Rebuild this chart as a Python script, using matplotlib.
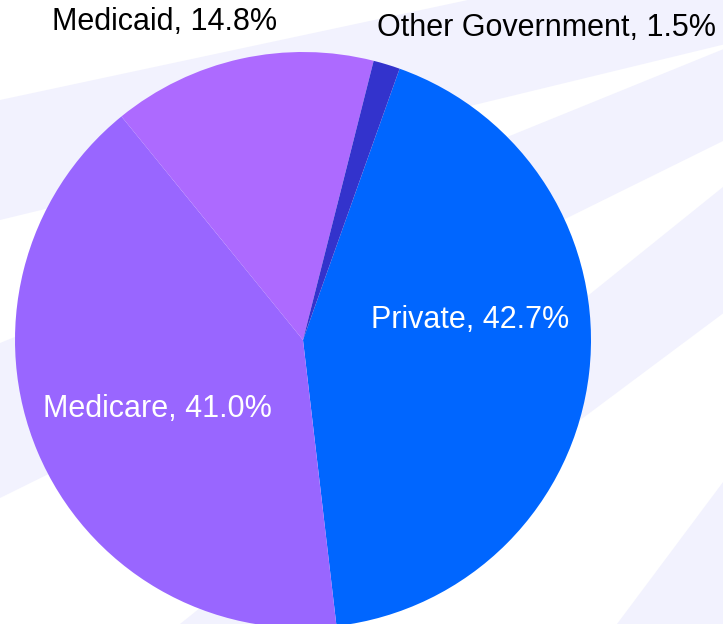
import numpy as np
import matplotlib.pyplot as plt
from matplotlib.patches import Polygon

plt.rcParams['font.family'] = ['Liberation Sans', 'DejaVu Sans']

# data
payers = ['Private', 'Medicare', 'Medicaid', 'Other Government']
shares = [42.7, 41.0, 14.8, 1.5]
colors = ['#0066ff', '#9966ff', '#ad6aff', '#3333cc']

W, H = 723, 624
fig = plt.figure(figsize=(W / 100, H / 100), dpi=100)

# background rays (decoration, pixel coords, y down)
bg = fig.add_axes([0, 0, 1, 1])
bg.set_xlim(0, W)
bg.set_ylim(H, 0)
bg.axis('off')
rays = [
    [(0, 100), (800, -71), (800, 26), (0, 220)],
    [(0, 343), (800, 18), (800, 103), (0, 498)],
    [(180, 624), (800, 125), (800, 256), (307, 624)],
    [(617, 624), (800, 379), (800, 700), (617, 700)],
]
for r in rays:
    bg.add_patch(Polygon(r, closed=True, color='#f2f2fe', lw=0))

# pie: center (303, 340) px, radius 288 px
cx, cy, rad = 303, 340, 288
ax = fig.add_axes([(cx - rad) / W, (H - cy - rad) / H, 2 * rad / W, 2 * rad / H])
wedges, _ = ax.pie(shares, colors=colors, startangle=70.4, counterclock=False,
                   radius=1, wedgeprops=dict(linewidth=0))
ax.set_xlim(-1, 1)
ax.set_ylim(-1, 1)
ax.set_aspect('auto')
for w in wedges:
    w.set_clip_on(False)

label_pos = [(0.58, 0.07), (-0.507, -0.24), (-0.479, 1.104), (0.847, 1.083)]
label_col = ['white', 'white', 'black', 'black']
for name, s, (x, y), c in zip(payers, shares, label_pos, label_col):
    ax.text(x, y, f'{name}, {s:.1f}%', ha='center', va='center',
            fontsize=22, color=c, clip_on=False)

fig.savefig('out.png', dpi=100)
